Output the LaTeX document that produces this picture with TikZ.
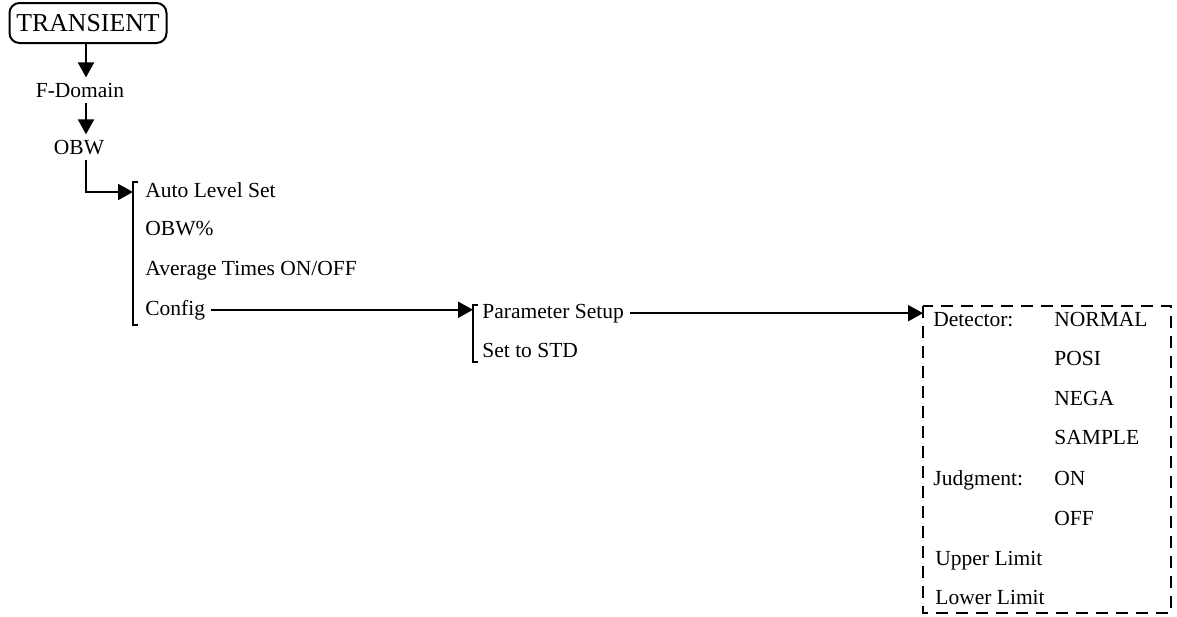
\documentclass[tikz,border=0pt]{standalone}
\usepackage{fontspec}
\setmainfont{Liberation Serif}
\usepackage{tikz}
\usetikzlibrary{positioning, calc, arrows.meta}
\newcommand{\menufont}{\fontsize{10.75}{13}\selectfont}
\newcommand{\topfont}{\fontsize{12.9}{15}\selectfont}

\begin{document}
\begin{tikzpicture}[x=0.5pt, y=-0.5pt, font=\menufont,
	item/.style={anchor=base west, inner sep=0pt},
	arr/.style={-{Triangle[length=7.5pt,width=8pt]}, line width=1pt},
	brk/.style={line width=1pt},
	dashbox/.style={line width=0.75pt, dash pattern=on 6pt off 4pt}]
	\useasboundingbox (0,0) rectangle (1177,616);
	
	\node[draw, line width=1pt, rounded corners=5pt, minimum width=78.5pt, minimum height=20pt, inner sep=0pt, font=\topfont] (transient) at (88,23) {TRANSIENT};
	\node[anchor=base, inner sep=2.5pt] (fdom) at (80,97) {F-Domain};
	\node[anchor=base, inner sep=2.5pt] (obw) at (79,154) {OBW};
	
	\coordinate (br1) at (133,182);
	\node[item] (auto) at (145,197) {Auto Level Set};
	\node[item] (obwp) at (145,235) {OBW\%};
	\node[item] (avg) at (145,275) {Average Times ON/OFF};
	\node[item] (config) at (145,315) {Config};
	
	\coordinate (br2) at (473,305);
	\node[item] (param) at (482,318) {Parameter Setup};
	\node[item] (std) at (482,357) {Set to STD};
	
	\coordinate (box) at (923,306);
	\node[item] (det) at (933,326) {Detector:};
	\node[item] (normal) at (1054,326) {NORMAL};
	\node[item] (posi) at (1054,365) {POSI};
	\node[item] (nega) at (1054,405) {NEGA};
	\node[item] (sample) at (1054,444) {SAMPLE};
	\node[item] (judg) at (933,485) {Judgment:};
	\node[item] (on) at (1054,485) {ON};
	\node[item] (off) at (1054,525) {OFF};
	\node[item] (upper) at (935,565) {Upper Limit};
	\node[item] (lower) at (935,604) {Lower Limit};
	
	% brackets and option box
	\draw[brk] ($(br1)+(5,0)$) -- (br1) -- ++(0,143) -- ++(5,0);
	\draw[brk] ($(br2)+(5,0)$) -- (br2) -- ++(0,57) -- ++(5,0);
	\draw[dashbox] (box) rectangle (1171,613);
	
	% connectors
	\draw[arr] (transient.south -| 86,0) -- (fdom.north -| 86,0);
	\draw[arr] (fdom.south -| 86,0) -- (obw.north -| 86,0);
	\draw[arr] (obw.south -| 86,0) |- (br1 |- 0,192);
	\draw[arr] ([xshift=2.5pt]config.east) -- (config.east -| br2);
	\draw[arr] ([xshift=3pt]param.east) -- (param.east -| box);
\end{tikzpicture}
\end{document}
